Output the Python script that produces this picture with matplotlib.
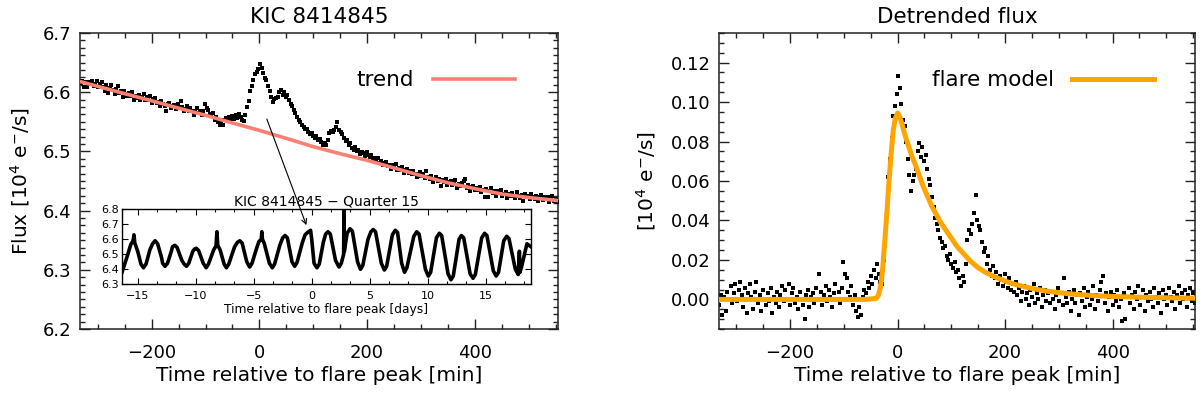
import numpy as np
import matplotlib
matplotlib.use('Agg')
import matplotlib.pyplot as plt
from matplotlib.ticker import MultipleLocator, AutoMinorLocator, FormatStrFormatter

# detrended flux, read off the right panel, sampled every 3 min from -332 min
# (units of 1e-3 * 10^4 e-/s)
resid_milli = [
    -3, 2, -8, 1, -6, 4, 0, 7, -2, 3,
    8, -1, 5, 9, 2, -4, 6, -7, 3, 8,
    1, -5, 4, 9, -2, 2, -6, 5, 0, -3,
    3, -1, 6, -7, 1, -2, 4, -4, 2, 7,
    -1, 5, 0, 8, -3, 3, 6, -2, 1, -5,
    4, 0, -3, -10, 2, 5, -4, 1, 3, -2,
    6, 0, 13, 4, -3, 2, 7, -1, 5, 1,
    -4, 3, 8, 0, 4, -2, 6, 19, 13, 11,
    4, 1, 7, -3, 2, -6, -9, -4, -8, 1,
    5,
    # pre-flare
    3, 9, 6, 12, 8, 15, 11, 18, 13, 9,
    # rise
    8, 20, 33, 44, 62, 71, 82, 93, 98, 104,
    # peak and fast decay
    113, 107, 99, 91, 88, 80, 71, 63, 55, 60,
    # second hump
    63, 66, 75, 79, 72, 77, 70, 73, 66, 61, 58,
    # decline
    52, 47, 41, 38, 35, 31, 29, 26, 27, 22, 20, 23, 18, 16, 19, 14, 15, 11, 7, 12, 9,
    # third bump
    18, 30, 35, 33, 38, 44, 53, 40, 37, 35, 29, 24,
    26, 18, 22, 15, 12, 17, 11, 14, 8, 12, 10, 7, 13, 9, 6, 11, 5, 8, 4, 9,
    2, 6, -1, 4, 7, 0, 3, -3, 5, 1, 8, -2, 3, 0, 6, -4, 2, 5, -1, 3,
    # tail
    -2, 4, 0, -5, 2, 6, -1, 3, -3, 11,
    1, -2, 4, -6, 0, 5, -2, 2, -8, 3,
    -1, 6, -4, 1, 4, -3, 0, 7, -5, 2,
    -1, 5, 9, 12, -2, 3, -6, 1, 4, -3,
    2, -1, 5, -4, 0, -11, 3, -10, 1, 6,
    -2, 2, -5, 4, 0, 7, -3, 1, 5, -6,
    2, -1, 4, 0, -4, 6, 1, -2, 3, -7,
    5, 0, 2, -3, 6, 1, -1, 4, -5, 2,
    7, -2, 3, 0, 5, -4, 2, 6, -1, 3,
    -2,
]

# long-term trend (left panel)
trend_t = [-333, -250, -200, -150, -100, -50, 0, 50, 100, 150, 200, 250, 300, 350, 400, 450, 500, 554]
trend_f = [6.618, 6.5975, 6.5855, 6.573, 6.561, 6.548, 6.5355, 6.522, 6.508, 6.496,
           6.485, 6.472, 6.459, 6.447, 6.437, 6.428, 6.422, 6.417]

# flare model (right panel)
model_t = [-333, -60, -40, -36, -32, -28, -24, -20, -16, -12,
           -8, -4, 0, 4, 8, 14, 20, 26, 32, 40,
           48, 56, 64, 72, 80, 90, 100, 110, 120, 135,
           150, 165, 180, 200, 220, 250, 280, 320, 360, 400,
           450, 500, 554]
model_f = [0, 0, 0.0005, 0.002, 0.006, 0.015, 0.029, 0.044, 0.060, 0.074,
           0.086, 0.092, 0.0945, 0.0925, 0.089, 0.083, 0.078, 0.073, 0.069, 0.063,
           0.057, 0.052, 0.047, 0.043, 0.039, 0.035, 0.031, 0.027, 0.024, 0.0195,
           0.016, 0.0135, 0.0115, 0.0093, 0.0075, 0.0055, 0.0041, 0.0028, 0.002, 0.0015,
           0.0011, 0.0008, 0.0006]

# quarter 15 light curve for the inset (days, flux)
q15_day = [-16.35, -15.85, -15.6, -15.4, -15.32, -15.25, -15.0, -14.72, -14.5, -14.28,
           -13.95, -13.72, -13.5, -13.28, -12.95, -12.85, -12.65, -12.43, -12.1, -12.0,
           -11.8, -11.6, -11.2, -11.0, -10.8, -10.6, -10.25, -10.1, -9.95, -9.75,
           -9.35, -9.1, -8.9, -8.45, -8.25, -8.17, -8.1, -7.9, -7.55, -7.35,
           -7.15, -6.65, -6.4, -6.2, -6.0, -5.6, -5.35, -5.15, -4.75, -4.55,
           -4.35, -4.3, -4.25, -4.1, -3.65, -3.4, -3.2, -2.75, -2.5, -2.3,
           -2.1, -1.7, -1.47, -1.27, -0.8, -0.57, -0.37, -0.1, 0.0, 0.2,
           0.45, 0.65, 1.0, 1.2, 1.4, 1.6, 2.05, 2.35, 2.55, 2.75,
           2.78, 2.81, 3.05, 3.3, 3.5, 3.95, 4.2, 4.4, 4.85, 5.1,
           5.3, 5.5, 6.0, 6.26, 6.46, 6.95, 7.2, 7.4, 7.75, 8.0,
           8.2, 8.8, 9.05, 9.25, 9.8, 10.05, 10.25, 10.75, 11.0, 11.2,
           11.75, 12.0, 12.2, 12.7, 12.9, 13.1, 13.65, 13.9, 14.1, 14.65,
           14.9, 15.1, 15.65, 15.9, 16.1, 16.55, 16.8, 17.0, 17.55, 17.8,
           17.9, 17.95, 18.1, 18.55, 18.9]
q15_flux = [6.38, 6.50, 6.565, 6.59, 6.63, 6.575, 6.52, 6.435, 6.41, 6.435,
            6.53, 6.57, 6.59, 6.57, 6.48, 6.44, 6.42, 6.44, 6.52, 6.55,
            6.56, 6.545, 6.46, 6.435, 6.42, 6.44, 6.52, 6.535, 6.54, 6.525,
            6.44, 6.41, 6.435, 6.53, 6.555, 6.65, 6.56, 6.53, 6.435, 6.41,
            6.435, 6.55, 6.58, 6.59, 6.575, 6.45, 6.415, 6.44, 6.54, 6.585,
            6.60, 6.65, 6.60, 6.575, 6.44, 6.41, 6.435, 6.56, 6.61, 6.625,
            6.61, 6.45, 6.42, 6.445, 6.58, 6.63, 6.645, 6.66, 6.60, 6.44,
            6.41, 6.435, 6.58, 6.635, 6.65, 6.635, 6.46, 6.415, 6.44, 6.50,
            6.82, 6.52, 6.64, 6.67, 6.655, 6.45, 6.40, 6.425, 6.60, 6.65,
            6.665, 6.65, 6.44, 6.395, 6.42, 6.63, 6.66, 6.645, 6.44, 6.38,
            6.41, 6.62, 6.65, 6.635, 6.40, 6.355, 6.38, 6.61, 6.64, 6.625,
            6.37, 6.33, 6.355, 6.60, 6.625, 6.61, 6.37, 6.34, 6.365, 6.61,
            6.64, 6.625, 6.39, 6.355, 6.38, 6.59, 6.62, 6.605, 6.40, 6.365,
            6.52, 6.38, 6.42, 6.57, 6.55]

time_min = np.arange(-332, -332 + 3 * len(resid_milli), 3)
resid = np.array(resid_milli) / 1000.0
# the left panel shows trend + detrended flux
flux = np.interp(time_min, trend_t, trend_f) + resid

plt.rcParams['font.family'] = 'DejaVu Sans'

fig = plt.figure(figsize=(12, 3.96), dpi=100)
ax1 = fig.add_axes([0.0667, 0.1692, 0.3981, 0.7475])
ax2 = fig.add_axes([0.5989, 0.1692, 0.3972, 0.7475])
axi = fig.add_axes([0.1017, 0.2821, 0.3408, 0.1894])


def style(ax, size=13):
    for s in ax.spines.values():
        s.set_linewidth(1.1)
        s.set_color('#222222')
    ax.tick_params(which='both', direction='in', top=True, right=True,
                   labelsize=size, width=1.0, color='#222222')
    ax.tick_params(which='major', length=7)
    ax.tick_params(which='minor', length=3.5)


# left panel
ax1.plot(time_min, flux, 's', color='black', ms=2.5, mew=0, zorder=3)
ax1.plot(trend_t, trend_f, color='salmon', lw=2.6, label='trend', zorder=4)
ax1.set_xlim(-333, 554)
ax1.set_ylim(6.2, 6.7)
ax1.xaxis.set_major_locator(MultipleLocator(200))
ax1.xaxis.set_minor_locator(MultipleLocator(50))
ax1.yaxis.set_major_locator(MultipleLocator(0.1))
ax1.yaxis.set_minor_locator(AutoMinorLocator(8))
ax1.yaxis.set_major_formatter(FormatStrFormatter('%.1f'))
style(ax1)
ax1.tick_params(axis='x', pad=11)
ax1.tick_params(axis='y', pad=6)
ax1.set_title('KIC 8414845', fontsize=15.5, pad=7)
ax1.set_xlabel('Time relative to flare peak [min]', fontsize=14.5, labelpad=3)
ax1.set_ylabel(r'Flux [10$^4$ e$^{-}$/s]', fontsize=14.5, labelpad=8)
ax1.legend(loc='center right', bbox_to_anchor=(0.911, 0.841), frameon=False,
           markerfirst=False, fontsize=15.5, handlelength=3.8, handletextpad=0.9,
           borderaxespad=0, borderpad=0)
ax1.annotate('', xy=(89, 6.371), xytext=(12, 6.559),
             arrowprops=dict(arrowstyle='->', lw=0.8, color='black', mutation_scale=9),
             annotation_clip=False, zorder=5)

# inset
axi.patch.set_alpha(0)
axi.plot(q15_day, q15_flux, color='black', lw=2.6, solid_joinstyle='round')
axi.set_xlim(-16.35, 18.9)
axi.set_ylim(6.3, 6.8)
axi.xaxis.set_major_locator(MultipleLocator(5))
axi.xaxis.set_minor_locator(AutoMinorLocator(3))
axi.yaxis.set_major_locator(MultipleLocator(0.1))
axi.yaxis.set_major_formatter(FormatStrFormatter('%.1f'))
for s in axi.spines.values():
    s.set_linewidth(1.0)
axi.tick_params(which='both', direction='in', top=True, right=True, labelsize=8, width=0.8)
axi.tick_params(which='major', length=4)
axi.tick_params(which='minor', length=2.5)
axi.tick_params(axis='x', pad=5)
axi.tick_params(axis='y', pad=2)
axi.set_title('KIC 8414845 \u2212 Quarter 15', fontsize=10, pad=3)
axi.set_xlabel('Time relative to flare peak [days]', fontsize=8.8, labelpad=1)

# right panel
ax2.plot(time_min, resid, 's', color='black', ms=2.5, mew=0, zorder=2)
ax2.plot(model_t, model_f, color='orange', lw=3.6, label='flare model', zorder=3)
ax2.set_xlim(-333, 554)
ax2.set_ylim(-0.015, 0.135)
ax2.xaxis.set_major_locator(MultipleLocator(200))
ax2.xaxis.set_minor_locator(MultipleLocator(50))
ax2.yaxis.set_major_locator(MultipleLocator(0.02))
ax2.yaxis.set_minor_locator(MultipleLocator(0.005))
ax2.yaxis.set_major_formatter(FormatStrFormatter('%.2f'))
style(ax2)
ax2.tick_params(axis='x', pad=11)
ax2.tick_params(axis='y', pad=6)
ax2.set_title('Detrended flux', fontsize=15.5, pad=7)
ax2.set_xlabel('Time relative to flare peak [min]', fontsize=14.5, labelpad=3)
ax2.set_ylabel(r'[10$^4$ e$^{-}$/s]', fontsize=14.5, labelpad=9)
ax2.legend(loc='center right', bbox_to_anchor=(0.913, 0.841), frameon=False,
           markerfirst=False, fontsize=15.5, handlelength=3.8, handletextpad=0.85,
           borderaxespad=0, borderpad=0)

fig.savefig('out.png', dpi=100)
